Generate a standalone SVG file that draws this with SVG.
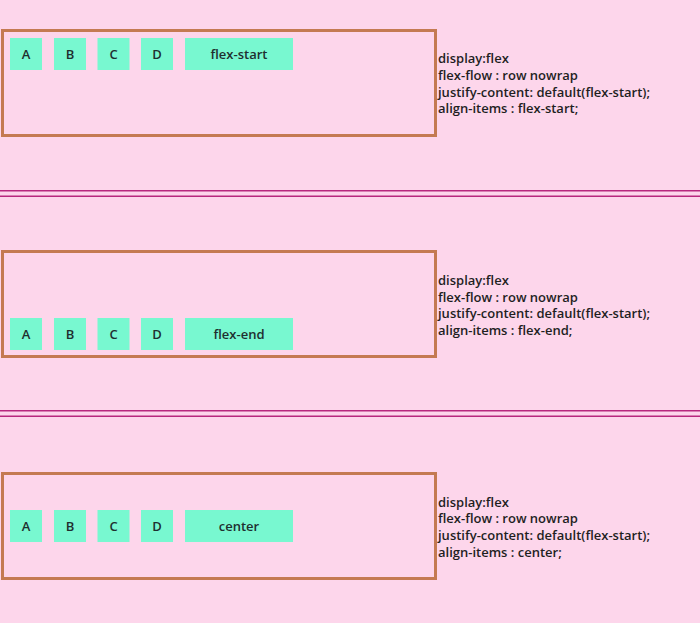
<svg xmlns="http://www.w3.org/2000/svg" width="700" height="623" viewBox="0 0 700 623">
<style>
.bg{fill:#fdd6eb}
.box{fill:none;stroke:#c47a52;stroke-width:3}
.item{fill:#78f8d0}
.lbl{font-family:"Open Sans","Noto Sans",sans-serif;font-size:13px;font-weight:600;fill:#1f2f2f;text-anchor:middle}
.desc{font-family:"Open Sans","Noto Sans",sans-serif;font-size:13px;font-weight:600;fill:#1f1f1f}
.sep{stroke:#b8287e;stroke-width:1.6}
</style>
<rect class="bg" x="0" y="0" width="700" height="623"/>
<g id="separators">
<line class="sep" x1="0" y1="190.8" x2="700" y2="190.8"/>
<line class="sep" x1="0" y1="196.2" x2="700" y2="196.2"/>
<line class="sep" x1="0" y1="410.8" x2="700" y2="410.8"/>
<line class="sep" x1="0" y1="416.2" x2="700" y2="416.2"/>
</g>
<g id="box1">
<rect class="box" x="2.5" y="30.5" width="433" height="105"/>
<g id="box1-A"><rect class="item" x="10" y="38" width="32" height="32"/><text class="lbl" x="26" y="59">A</text></g>
<g id="box1-B"><rect class="item" x="54" y="38" width="32" height="32"/><text class="lbl" x="70" y="59">B</text></g>
<g id="box1-C"><rect class="item" x="97.5" y="38" width="32" height="32"/><text class="lbl" x="113.5" y="59">C</text></g>
<g id="box1-D"><rect class="item" x="141" y="38" width="32" height="32"/><text class="lbl" x="157" y="59">D</text></g>
<g id="box1-E"><rect class="item" x="185" y="38" width="108" height="32"/><text class="lbl" x="239" y="59">flex-start</text></g>
</g>
<g id="desc1">
<text class="desc" x="438" y="63.3">display:flex</text>
<text class="desc" x="438" y="80">flex-flow : row nowrap</text>
<text class="desc" x="438" y="96.7">justify-content: default(flex-start);</text>
<text class="desc" x="438" y="113.4">align-items : flex-start;</text>
</g>
<g id="box2">
<rect class="box" x="2.5" y="251.5" width="433" height="105"/>
<g id="box2-A"><rect class="item" x="10" y="318" width="32" height="32"/><text class="lbl" x="26" y="339">A</text></g>
<g id="box2-B"><rect class="item" x="54" y="318" width="32" height="32"/><text class="lbl" x="70" y="339">B</text></g>
<g id="box2-C"><rect class="item" x="97.5" y="318" width="32" height="32"/><text class="lbl" x="113.5" y="339">C</text></g>
<g id="box2-D"><rect class="item" x="141" y="318" width="32" height="32"/><text class="lbl" x="157" y="339">D</text></g>
<g id="box2-E"><rect class="item" x="185" y="318" width="108" height="32"/><text class="lbl" x="239" y="339">flex-end</text></g>
</g>
<g id="desc2">
<text class="desc" x="438" y="285">display:flex</text>
<text class="desc" x="438" y="301.7">flex-flow : row nowrap</text>
<text class="desc" x="438" y="318.4">justify-content: default(flex-start);</text>
<text class="desc" x="438" y="335.1">align-items : flex-end;</text>
</g>
<g id="box3">
<rect class="box" x="2.5" y="473.5" width="433" height="105"/>
<g id="box3-A"><rect class="item" x="10" y="510" width="32" height="32"/><text class="lbl" x="26" y="531">A</text></g>
<g id="box3-B"><rect class="item" x="54" y="510" width="32" height="32"/><text class="lbl" x="70" y="531">B</text></g>
<g id="box3-C"><rect class="item" x="97.5" y="510" width="32" height="32"/><text class="lbl" x="113.5" y="531">C</text></g>
<g id="box3-D"><rect class="item" x="141" y="510" width="32" height="32"/><text class="lbl" x="157" y="531">D</text></g>
<g id="box3-E"><rect class="item" x="185" y="510" width="108" height="32"/><text class="lbl" x="239" y="531">center</text></g>
</g>
<g id="desc3">
<text class="desc" x="438" y="506.5">display:flex</text>
<text class="desc" x="438" y="523.2">flex-flow : row nowrap</text>
<text class="desc" x="438" y="539.9">justify-content: default(flex-start);</text>
<text class="desc" x="438" y="556.6">align-items : center;</text>
</g>
</svg>
